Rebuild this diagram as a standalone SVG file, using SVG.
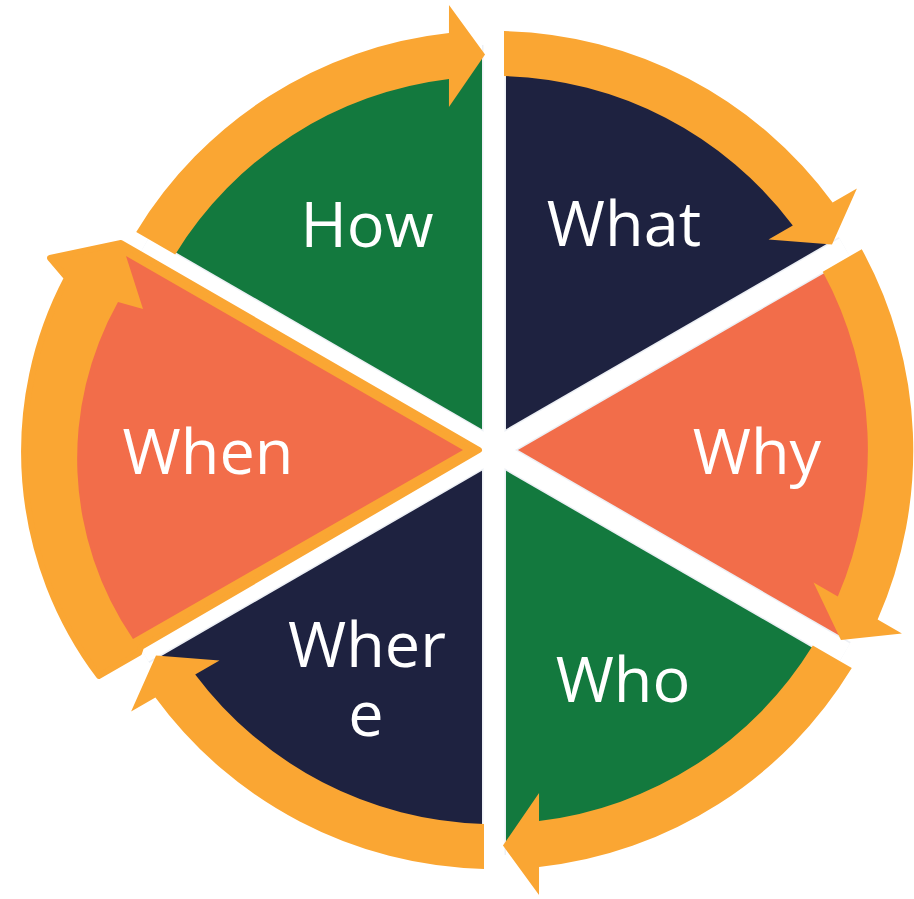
<svg xmlns="http://www.w3.org/2000/svg" xmlns:xlink="http://www.w3.org/1999/xlink" width="914" height="899" viewBox="0 0 914 899">
  <style>
    .navy { fill: #1E2240; }
    .green { fill: #13793E; }
    .coral { fill: #F26D4A; }
    .orange { fill: #FAA633; }
    .gapEdge { stroke: #EDF0F5; stroke-width: 24; }
    .gap { stroke: #FFFFFF; stroke-width: 21; }
    .label { font-family: "Open Sans", "DejaVu Sans", sans-serif; font-size: 63px; fill: #FFFFFF; text-anchor: middle; }
  </style>
  <defs>
    <path id="wedge" d="M 494,450 L 494,53 A 397 397 0 0 1 837.8,251.5 Z"/>
    <path id="arrow" d="M 504,31.1 A 419 419 0 0 1 832.6,202.5 L 856.9,188.5 L 832,244.5 L 768.5,239.5 L 792.8,225.5 A 374 374 0 0 0 504,76.1 Z"/>
  </defs>
  <rect width="914" height="899" fill="#FFFFFF"/>

  <g id="what">
    <use xlink:href="#wedge" class="navy"/>
  </g>
  <g id="why">
    <use xlink:href="#wedge" class="coral" transform="rotate(60 494 450)"/>
  </g>
  <g id="who">
    <use xlink:href="#wedge" class="green" transform="rotate(120 494 450)"/>
  </g>
  <g id="where">
    <use xlink:href="#wedge" class="navy" transform="rotate(180 494 450)"/>
  </g>
  <g id="how">
    <use xlink:href="#wedge" class="green" transform="rotate(300 494 450)"/>
  </g>

  <g id="gaps">
    <line class="gapEdge" x1="494" y1="45" x2="494" y2="855"/>
    <line class="gapEdge" x1="844.7" y1="247.5" x2="143.3" y2="652.5"/>
    <line class="gapEdge" x1="844.7" y1="652.5" x2="143.3" y2="247.5"/>
    <line class="gap" x1="494" y1="45" x2="494" y2="855"/>
    <line class="gap" x1="844.7" y1="247.5" x2="143.3" y2="652.5"/>
    <line class="gap" x1="844.7" y1="652.5" x2="143.3" y2="247.5"/>
  </g>

  <g id="connectors">
    <use xlink:href="#arrow" class="orange"/>
    <use xlink:href="#arrow" class="orange" transform="rotate(60 494 450)"/>
    <use xlink:href="#arrow" class="orange" transform="rotate(120 494 450)"/>
    <use xlink:href="#arrow" class="orange" transform="rotate(180 494 450)"/>
    <use xlink:href="#arrow" class="orange" transform="rotate(300 494 450)"/>
  </g>

  <g id="when">
    <path class="orange" stroke="#FAA633" stroke-width="6" stroke-linejoin="round" d="M 479,450 L 121,243 L 50,258 L 67,278 A 373 373 0 0 0 99,676 L 139,653 L 141,647 Z"/>
    <path class="coral" d="M 463,450 L 126,256 L 143,309 L 118,302 A 320 320 0 0 0 133,639 Z"/>
  </g>

  <g id="labels">
    <text class="label" x="367" y="247">How</text>
    <text class="label" x="624" y="246">What</text>
    <text class="label" x="757" y="474">Why</text>
    <text class="label" x="208" y="474">When</text>
    <text class="label" x="623" y="702">Who</text>
    <text class="label" x="367" y="667">Wher</text>
    <text class="label" x="366" y="736">e</text>
  </g>
</svg>
